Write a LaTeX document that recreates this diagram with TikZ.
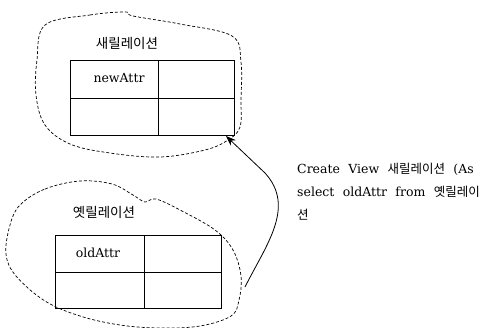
\documentclass[tikz,border=0pt]{standalone}
\usepackage{fontspec}
\setmainfont{DejaVu Serif}[WordSpace={2.1,1,1}]
\newfontfamily\kr{Noto Sans CJK KR}
\usetikzlibrary{arrows.meta}
\tikzset{
  tbl/.style={draw, line width=0.9pt, inner sep=0pt, anchor=north west},
  divider/.style={line width=0.9pt},
  blob/.style={draw, line width=0.7pt, dash pattern=on 3pt off 2pt},
  lbl/.style={font=\fontsize{12.5}{15}\selectfont},
  title/.style={font=\kr\fontsize{13.5}{16}\selectfont},
  conn/.style={line width=0.8pt, -{Stealth[length=10pt,width=7.5pt]}}
}
\begin{document}
\begin{tikzpicture}[x=1pt,y=-1pt]
\useasboundingbox (0,0) rectangle (489,327);
\clip (0,0) rectangle (489,327);
% top blob
\draw[blob] plot[smooth cycle, tension=0.6] coordinates {(45,25) (90,15) (125,12) (133,16) (180,24) (232,36) (241,62) (241,100) (240,127) (228,140) (205,150) (160,157) (110,153) (70,144) (45,125) (36,95) (37,60)};
% top table
\node[title] (t1) at (127,43) {새릴레이션};
\node[tbl, minimum width=164pt, minimum height=75pt] (ta) at (70,60) {};
\draw[divider] (ta.north west) ++(88,0) coordinate (ta1) (ta1) -- (ta1 |- ta.south);
\draw[divider] (ta.west) -- (ta.east);
\node[lbl] (na) at (119,78) {newAttr};
% bottom blob
\draw[blob] plot[smooth cycle, tension=0.6] coordinates {(20,205) (45,189) (80,181) (112,184) (133,195) (145,202) (156,199) (182,211) (215,230) (233,250) (241,276) (239,300) (231,316) (200,326) (160,328) (120,325) (80,316) (45,301) (16,276) (6,254) (10,225)};
% bottom table
\node[title] (t2) at (104,212) {옛릴레이션};
\node[tbl, minimum width=166pt, minimum height=73pt] (tb) at (55,235) {};
\draw[divider] (tb.north west) ++(89,0) coordinate (tb1) (tb1) -- (tb1 |- tb.south);
\draw[divider] (tb.west) -- (tb.east);
\node[lbl] (oa) at (98,253) {oldAttr};
% connector
\coordinate (s) at (245,287);
\coordinate (e) at (226,136);
\draw[conn] (s) .. controls (266,245) and (296,207) .. (265,173) -- (e);
% text
\node[lbl, anchor=base west, inner sep=0pt] (c1) at (297,173) {Create View {\kr 새릴레이션} (As};
\node[lbl, anchor=base west, inner sep=0pt] (c2) at (297,196.5) {select oldAttr from {\kr 옛릴레이}};
\node[lbl, anchor=base west, inner sep=0pt] (c3) at (297,219) {{\kr 션}};
\end{tikzpicture}
\end{document}
